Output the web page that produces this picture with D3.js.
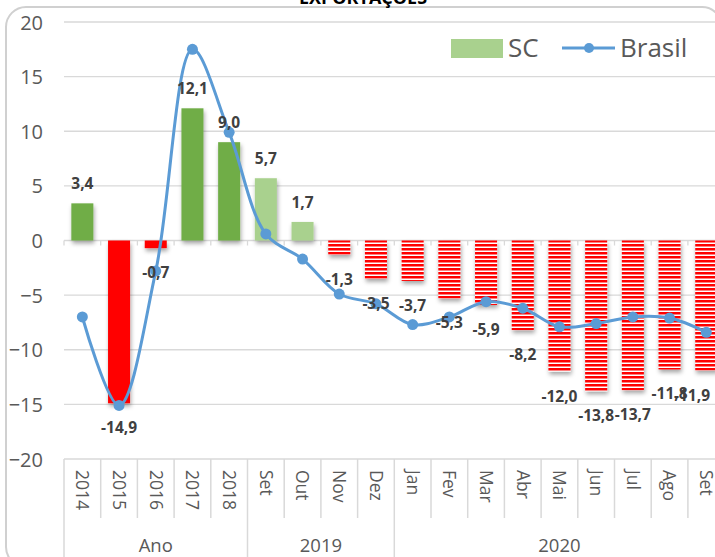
<!DOCTYPE html>
<html>
<head>
<meta charset="utf-8">
<script src="https://cdn.jsdelivr.net/npm/d3@7/dist/d3.min.js"></script>
<style>
  html, body { margin: 0; padding: 0; background: #fff; }
  svg { display: block; font-family: "Open Sans", "Noto Sans", sans-serif; }
</style>
</head>
<body>
<svg id="chart" width="715" height="557"></svg>
<script>
// Exportações: variação (%) de Santa Catarina (barras) e Brasil (linha)
const categories = ["2014","2015","2016","2017","2018","Set","Out","Nov","Dez","Jan","Fev","Mar","Abr","Mai","Jun","Jul","Ago","Set"];
const groups = ["Ano","2019","2020"];
const groupSizes = [5, 4, 9];
const scValues = [3.4, -14.9, -0.7, 12.1, 9.0, 5.7, 1.7, -1.3, -3.5, -3.7, -5.3, -5.9, -8.2, -12.0, -13.8, -13.7, -11.8, -11.9];
const brasilValues = [-7.0, -15.1, -2.8, 17.5, 9.9, 0.6, -1.7, -4.9, -5.8, -7.7, -7.0, -5.6, -6.2, -7.9, -7.6, -7.0, -7.1, -8.4];
const yTicks = [20, 15, 10, 5, 0, -5, -10, -15, -20];

const W = 715, H = 557;
const svg = d3.select("#chart");
const defs = svg.append("defs");

// horizontal red/white stripes for the monthly negative bars
const pat = defs.append("pattern")
  .attr("id", "stripes").attr("patternUnits", "userSpaceOnUse")
  .attr("width", 8).attr("height", 4);
pat.append("rect").attr("width", 8).attr("height", 4).attr("fill", "#ffffff");
pat.append("rect").attr("width", 8).attr("height", 2.5).attr("fill", "#ff0000");

const shadow = defs.append("filter").attr("id", "shadow")
  .attr("x", "-30%").attr("y", "-10%").attr("width", "160%").attr("height", "130%");
shadow.append("feDropShadow").attr("dx", 1).attr("dy", 3).attr("stdDeviation", 2)
  .attr("flood-color", "#000").attr("flood-opacity", 0.35);

// chart frame
svg.append("rect").attr("x", 6).attr("y", 7).attr("width", 716).attr("height", 560)
  .attr("rx", 20).attr("ry", 20)
  .attr("fill", "#fff").attr("stroke", "#d0d0d0").attr("stroke-width", 2);

// title (partly above the frame)
svg.append("text").attr("x", 363).attr("y", 4).attr("text-anchor", "middle")
  .attr("font-size", 18).attr("font-weight", "bold").attr("fill", "#000")
  .text("EXPORTAÇÕES");

const x0 = 64, step = 36.7;
const x = d3.scaleBand().domain(d3.range(categories.length))
  .range([x0, x0 + step * categories.length]).paddingInner(0.4).paddingOuter(0.2);
const y = d3.scaleLinear().domain([-20, 20]).range([459, 22]);

// gridlines + y axis labels
const yAxis = d3.axisLeft(y).tickValues(yTicks).tickSize(0).tickPadding(0);
const gy = svg.append("g").attr("transform", "translate(43,0)").call(yAxis);
gy.select(".domain").remove();
gy.selectAll("text").attr("font-size", 20).attr("fill", "#595959")
  .attr("font-family", "'Open Sans', sans-serif").attr("dy", "0.35em");

svg.append("g").selectAll("line").data(yTicks.filter(d => d !== -20)).join("line")
  .attr("x1", x0).attr("x2", W).attr("y1", d => y(d)).attr("y2", d => y(d))
  .attr("stroke", "#d9d9d9").attr("stroke-width", 1.3);

// small ticks on the zero line
svg.append("g").selectAll("line").data(d3.range(categories.length + 1)).join("line")
  .attr("x1", i => x0 + i * step).attr("x2", i => x0 + i * step)
  .attr("y1", y(0)).attr("y2", y(0) + 5)
  .attr("stroke", "#d9d9d9").attr("stroke-width", 1.3);

// bars
const barFill = (v, i) => i < 5 ? (v >= 0 ? "#70ad47" : "#ff0000") : (v >= 0 ? "#a9d18e" : "url(#stripes)");
svg.append("g").attr("filter", "url(#shadow)").selectAll("rect").data(scValues).join("rect")
  .attr("x", (v, i) => x(i)).attr("width", x.bandwidth())
  .attr("y", v => Math.min(y(v), y(0))).attr("height", v => Math.abs(y(v) - y(0)))
  .attr("fill", barFill);

// Brasil line
const line = d3.line().x((v, i) => x(i) + x.bandwidth() / 2).y(v => y(v))
  .curve(d3.curveCatmullRom.alpha(0.5));
svg.append("path").datum(brasilValues).attr("d", line)
  .attr("fill", "none").attr("stroke", "#5b9bd5").attr("stroke-width", 3)
  .attr("stroke-linejoin", "round");
svg.append("g").selectAll("circle").data(brasilValues).join("circle")
  .attr("cx", (v, i) => x(i) + x.bandwidth() / 2).attr("cy", v => y(v)).attr("r", 5.5)
  .attr("fill", "#5b9bd5");

// data labels for SC
const fmt = v => v.toFixed(1).replace(".", ",");
svg.append("g").selectAll("text").data(scValues).join("text")
  .attr("x", (v, i) => Math.min(x(i) + x.bandwidth() / 2, 692))
  .attr("y", v => v >= 0 ? y(v) - 14 : y(v) + 30)
  .attr("text-anchor", "middle").attr("font-size", 15.5).attr("font-weight", "bold")
  .attr("fill", "#404040").text(fmt);

// x axis: category labels and group labels
const axisTop = 459, catBottom = 518;
svg.append("line").attr("x1", x0).attr("x2", W).attr("y1", axisTop).attr("y2", axisTop)
  .attr("stroke", "#d9d9d9").attr("stroke-width", 1.5);
const groupStarts = groupSizes.map((s, k) => d3.sum(groupSizes.slice(0, k)));
svg.append("g").selectAll("line").data(d3.range(categories.length + 1)).join("line")
  .attr("x1", i => x0 + i * step).attr("x2", i => x0 + i * step)
  .attr("y1", axisTop).attr("y2", i => groupStarts.includes(i) || i === categories.length ? H : catBottom)
  .attr("stroke", "#d9d9d9").attr("stroke-width", 1.5);

svg.append("g").selectAll("text").data(categories).join("text")
  .attr("transform", (c, i) => `translate(${x(i) + x.bandwidth() / 2},${470}) rotate(90)`)
  .attr("dy", "0.35em").attr("font-size", 17.5).attr("fill", "#595959").text(c => c);

svg.append("g").selectAll("text").data(groups).join("text")
  .attr("x", (g, k) => x0 + (groupStarts[k] + groupSizes[k] / 2) * step)
  .attr("y", 552).attr("text-anchor", "middle")
  .attr("font-size", 18.5).attr("fill", "#595959").text(g => g);

// legend
const lg = svg.append("g");
lg.append("rect").attr("x", 451).attr("y", 39).attr("width", 52).attr("height", 19).attr("fill", "#a9d18e");
lg.append("text").attr("x", 508).attr("y", 57).attr("font-size", 26).attr("fill", "#595959").text("SC");
lg.append("line").attr("x1", 562).attr("x2", 615).attr("y1", 48).attr("y2", 48)
  .attr("stroke", "#5b9bd5").attr("stroke-width", 3);
lg.append("circle").attr("cx", 589).attr("cy", 48).attr("r", 5).attr("fill", "#5b9bd5");
lg.append("text").attr("x", 620).attr("y", 57).attr("font-size", 26).attr("fill", "#595959").text("Brasil");
</script>
</body>
</html>
